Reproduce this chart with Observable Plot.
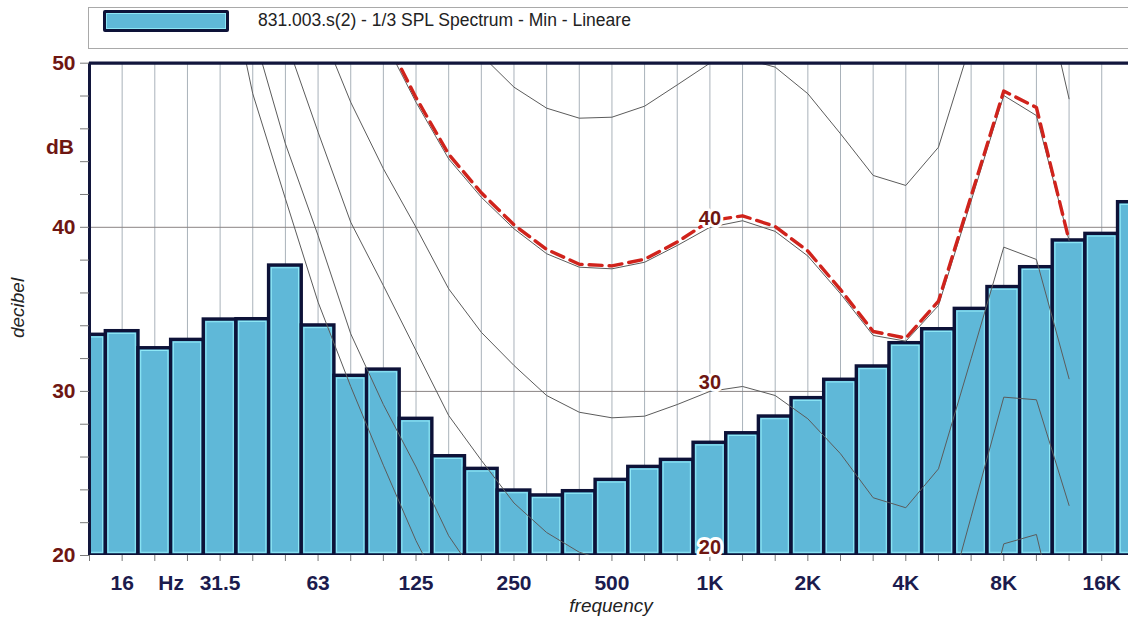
<!DOCTYPE html>
<html>
<head>
<meta charset="utf-8">
<script src="https://cdn.jsdelivr.net/npm/d3@7"></script>
<script src="https://cdn.jsdelivr.net/npm/@observablehq/plot@0.6"></script>
<style>
html,body{margin:0;padding:0;background:#fff;}
#wrap{position:relative;width:1128px;height:619px;overflow:hidden;font-family:"Liberation Sans",Arial,sans-serif;}
#wrap svg{position:absolute;left:0;top:0;}
.lbl{position:absolute;white-space:nowrap;line-height:1;}
#legendBox{position:absolute;left:88px;top:7px;width:1100px;height:42px;border:1px solid #a9a9a9;box-sizing:border-box;background:#fff;}
#swatch{position:absolute;left:103px;top:10px;width:126px;height:22px;box-sizing:border-box;background:#5fb8d8;border:3px solid #0d1238;border-radius:2px;box-shadow:inset 0 0 0 1px #8de6f5;}
#legendText{left:258px;top:12px;font-size:17.5px;color:#222;}
#dB{left:60px;top:146px;transform:translate(-50%,-50%);font-size:21px;font-weight:bold;color:#6e1612;}
#ylab{left:16.5px;top:308px;transform:translate(-50%,-50%) rotate(-90deg);font-size:19px;font-style:italic;color:#222;}
#xlab{left:611px;top:604.5px;transform:translate(-50%,-50%);font-size:19px;font-style:italic;color:#222;}
g[aria-label$="tick label"]{font-weight:bold;}
</style>
</head>
<body>
<div id="wrap">
  <div id="legendBox"></div>
  <div id="swatch"></div>
  <div class="lbl" id="legendText">831.003.s(2) - 1/3 SPL Spectrum - Min - Lineare</div>
</div>
<script>
// 1/3 octave bands (index 0 = 12.5 Hz ... 32 = 20 kHz)
const bands = ["12.5","16","20","25","31.5","40","50","63","80","100","125","160","200","250","315","400","500","630","800","1K","1.25K","1.6K","2K","2.5K","3.15K","4K","5K","6.3K","8K","10K","12.5K","16K","20K"];

// SPL spectrum, dB (Min, linear)
const spl = [33.45,33.67,32.63,33.14,34.38,34.4,37.67,34.02,30.95,31.33,28.33,26.05,25.28,23.96,23.66,23.92,24.61,25.4,25.83,26.87,27.45,28.47,29.59,30.71,31.52,32.94,33.79,35.03,36.36,37.57,39.2,39.6,41.53];

// equal-loudness contours (dB per band, null = not drawn)
const phon0  = [null,null,null,null,57.5,48.14,41.74,35.44,30.3,25.5,20.9,17.0,null,null,null,null,null,null,null,null,null,null,null,null,null,null,null,null,null,null,null,null,null];
const phon10 = [null,null,null,null,null,52,45.09,39.5,33.51,29.2,25.4,21.2,18.3,null,null,null,null,null,null,null,null,null,null,null,null,null,null,13,20.71,21.28,13,null,null];
const phon20 = [null,null,null,null,null,null,51.5,45.8,40.31,36.45,32.49,28.53,25.8,23.2,21.4,20.2,19.6,null,null,null,null,null,null,null,null,null,15.1,22.36,29.65,29.49,23.05,null,null];
const phon30 = [null,null,null,null,null,null,null,52.5,47.62,43.57,40.0,36.25,33.6,31.58,29.75,28.73,28.39,28.49,29.2,30.0,30.3,29.75,28.33,26.2,23.52,22.91,25.28,32.0,38.79,38.04,30.77,null,null];
const phon40 = [null,null,null,null,null,null,null,null,null,51.5,47.62,44.17,41.83,39.91,38.39,37.57,37.47,37.87,38.89,40.0,40.4,39.75,38.25,35.95,33.41,33.06,35.23,41.6,48.03,46.81,39.2,null,null];
const phon50 = [null,null,null,null,null,null,null,null,null,null,null,null,50.5,48.54,47.26,46.65,46.71,47.38,48.68,50.0,50.3,49.76,48.14,45.7,43.16,42.55,44.88,51.3,58,56.5,47.83,null,null];
// loudness contour of the spectrum (red dashed)
const loudness = [null,null,null,null,null,null,null,null,null,51.8,47.9,44.45,42.1,40.15,38.65,37.75,37.65,38.05,39.1,40.4,40.7,40.05,38.55,36.2,33.65,33.25,35.5,41.9,48.3,47.3,39.2,null,null];

// contour labels at 1 kHz
const contourLabels = ["40","30","20"];
const contourLevels = [40,30,20];
const contourLabelBand = "1K";

// axis labels
const xTickBands = ["16","31.5","63","125","250","500","1K","2K","4K","8K","16K"];
const xTickText  = ["16","31.5","63","125","250","500","1K","2K","4K","8K","16K"];
const xUnit = "Hz";
const xUnitPos = 2.5; // between 20 and 25 Hz bands
const yTicks = d3.range(20, 51, 2);
const yGrid = [30, 40];

const rows = bands.map((b, i) => ({i, band: b, v: spl[i]}));
const seriesRows = arr => arr.map((v, i) => ({i, v}));
const bandIdx = d3.range(bands.length);
const xTickIdx = xTickBands.map(b => bands.indexOf(b));
const labelIdx = bands.indexOf(contourLabelBand);
const labelRows = contourLabels.map((t, k) => ({i: labelIdx, v: contourLevels[k], t}));

const navy = "#0d1238";
const maroon = "#6e1612";
const contourColor = "#5b5b5b";

const chart = Plot.plot({
  width: 1128,
  height: 619,
  marginLeft: 89,
  marginRight: 0,
  marginTop: 62.7,
  marginBottom: 64,
  x: {type: "linear", domain: [0, 31.82], axis: null},
  y: {domain: [20, 50], axis: null},
  style: {fontFamily: "Liberation Sans, Arial, sans-serif", background: "transparent", overflow: "visible"},
  marks: [
    Plot.ruleX(bandIdx, {x: d => d, stroke: "#9aa4ae", strokeWidth: 0.85, clip: true}),
    Plot.ruleY(yGrid, {y: d => d, stroke: "#8a8484", strokeWidth: 1}),
    Plot.rect(rows, {x1: d => d.i - 0.5, x2: d => d.i + 0.5, y1: 20, y2: "v", fill: "#5fb8d8", stroke: navy, strokeWidth: 3.4, clip: true}),
    Plot.rect(rows, {x1: d => d.i - 0.5, x2: d => d.i + 0.5, y1: 20, y2: "v", inset: 2.7, fill: "none", stroke: "#8fe8f6", strokeWidth: 1.1, clip: true}),
    ...[phon0, phon10, phon20, phon30, phon40, phon50].map(arr =>
      Plot.line(seriesRows(arr), {x: "i", y: "v", stroke: contourColor, strokeWidth: 1, clip: true})
    ),
    Plot.line(seriesRows(loudness), {x: "i", y: "v", stroke: "#d0231c", strokeWidth: 3.4, strokeDasharray: "13,7", clip: true}),
    Plot.ruleY([50], {stroke: "#12163c", strokeWidth: 3.2}),
    Plot.ruleX([0], {stroke: "#12163c", strokeWidth: 3}),
    Plot.axisY({ticks: yTicks, tickSize: 9, tickPadding: 5, tickFormat: d => d % 10 === 0 ? String(d) : "", fontSize: 21, fontWeight: "bold", fill: maroon, stroke: "#7a7a7a", label: null}),
    Plot.axisX({ticks: bandIdx, tickSize: 6, tickFormat: () => "", stroke: "#7a7a7a", label: null}),
    Plot.axisX(xTickIdx, {tickSize: 0, tickPadding: 20, tickFormat: i => xTickText[xTickIdx.indexOf(i)], fontSize: 21, fontWeight: "bold", fill: "#1b1b4d", label: null}),
    Plot.text([xUnit], {x: xUnitPos, y: 20, text: d => d, lineAnchor: "top", dy: 20, fontSize: 21, fontWeight: "bold", fill: "#1b1b4d"}),
    Plot.text(labelRows, {x: "i", y: "v", text: "t", lineAnchor: "bottom", dy: -2, fontSize: 20, fontWeight: "bold", fill: maroon, stroke: "white", strokeWidth: 6, paintOrder: "stroke"})
  ]
});

const wrap = document.getElementById("wrap");
wrap.insertBefore(chart, wrap.firstChild);

const addLabel = (id, text) => {
  const el = document.createElement("div");
  el.className = "lbl";
  el.id = id;
  el.textContent = text;
  wrap.appendChild(el);
};
addLabel("dB", "dB");
addLabel("ylab", "decibel");
addLabel("xlab", "frequency");
</script>
</body>
</html>
